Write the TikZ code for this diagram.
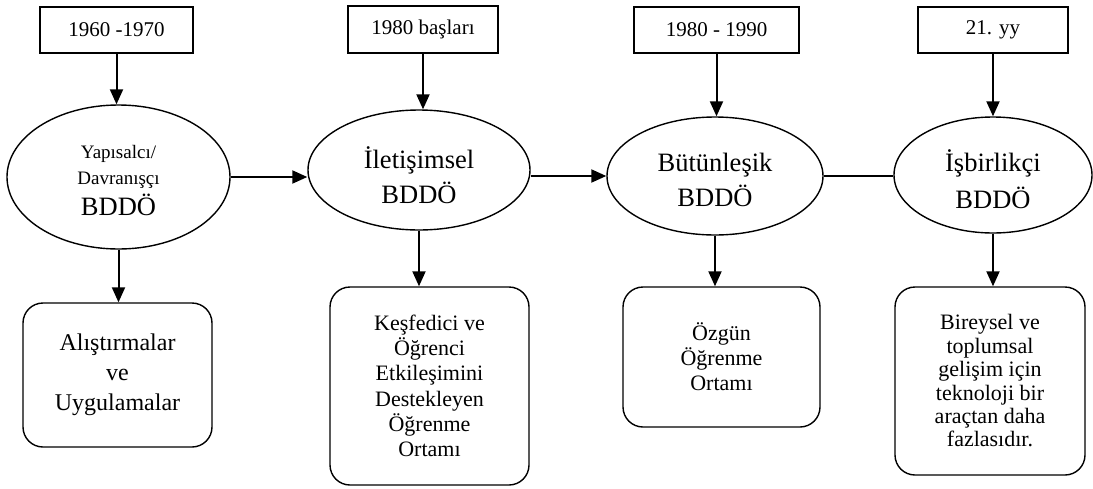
\documentclass[tikz,border=0pt]{standalone}
\usepackage{fontspec}
\setmainfont{Liberation Serif}
\usetikzlibrary{shapes.geometric,arrows.meta}
\begin{document}
\begin{tikzpicture}[x=1pt,y=-1pt,
  datebox/.style={draw,line width=1.3pt,inner sep=0pt,font=\fontsize{21}{24}\selectfont},
  era/.style={draw,ellipse,line width=1.4pt,inner sep=0pt,align=center},
  resbox/.style={draw,rounded corners=20pt,line width=1.4pt,inner sep=0pt,align=center},
  arr/.style={line width=2pt,-{Triangle[length=15pt,width=13pt]}},
  lin/.style={line width=2pt}]
\useasboundingbox (0,0) rectangle (1093,488);
% date boxes
\node[datebox,minimum width=153pt,minimum height=46pt] (D1) at (116.5,30) {1960 -1970};
\node[datebox,minimum width=150pt,minimum height=47pt] (D2) at (423,29.5) {1980 başları};
\node[datebox,minimum width=165pt,minimum height=46pt] (D3) at (716.5,30) {1980 - 1990};
\node[datebox,minimum width=150pt,minimum height=46pt] (D4) at (993,30) {21. yy};
% ellipses
\node[era,minimum width=223pt,minimum height=144pt,font=\fontsize{19}{26}\selectfont] (E1) at (118.5,177)
  {\rule{0pt}{20pt}Yapısalcı/\\Davranışçı\\[5pt]{\fontsize{26.5}{30}\selectfont BDDÖ}};
\node[era,minimum width=222pt,minimum height=120pt,font=\fontsize{26.5}{35}\selectfont] (E2) at (419,170)
  {\rule{0pt}{33pt}İletişimsel\\BDDÖ};
\node[era,minimum width=216pt,minimum height=118pt,font=\fontsize{26.5}{35}\selectfont] (E3) at (715,176)
  {\rule{0pt}{27pt}Bütünleşik\\BDDÖ};
\node[era,minimum width=198pt,minimum height=116pt,font=\fontsize{26.5}{37}\selectfont] (E4) at (993,175)
  {\rule{0pt}{30pt}İşbirlikçi\\BDDÖ};
% result boxes
\node[resbox,minimum width=189pt,minimum height=144pt,font=\fontsize{24}{30}\selectfont] (B1) at (117.5,375)
  {Alıştırmalar\\ve\\Uygulamalar};
\node[resbox,minimum width=199pt,minimum height=198pt,font=\fontsize{22}{25.3}\selectfont] (B2) at (429.5,386)
  {Keşfedici ve\\Öğrenci\\Etkileşimini\\Destekleyen\\Öğrenme\\Ortamı};
\node[resbox,minimum width=197pt,minimum height=140pt,font=\fontsize{22}{25}\selectfont] (B3) at (721.5,357)
  {Özgün\\Öğrenme\\Ortamı};
\node[resbox,minimum width=190pt,minimum height=188pt,font=\fontsize{22}{23.4}\selectfont] (B4) at (990,381)
  {Bireysel ve\\toplumsal\\gelişim için\\teknoloji bir\\araçtan daha\\fazlasıdır.};
% connectors
\draw[arr] (D1.south) -- (D1.south |- E1.north);
\draw[arr] (D2.south) -- (D2.south |- E2.north);
\draw[arr] (D3.south) -- (D3.south |- E3.north);
\draw[arr] (D4.south) -- (D4.south |- E4.north);
\draw[arr] (E1.south) -- (E1.south |- B1.north);
\draw[arr] (E2.south) -- (E2.south |- B2.north);
\draw[arr] (E3.south) -- (E3.south |- B3.north);
\draw[arr] (E4.south) -- (E4.south |- B4.north);
\draw[arr] (E1.east) -- (E1.east -| E2.west);
\draw[arr] (E3.west -| E2.east) -- (E3.west);
\draw[lin] (E3.east) -- (E3.east -| E4.west);
\end{tikzpicture}
\end{document}
